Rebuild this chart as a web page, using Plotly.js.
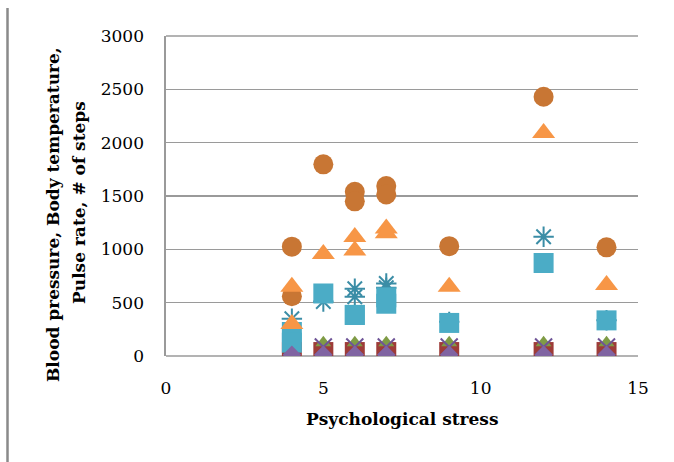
<!DOCTYPE html>
<html>
<head>
<meta charset="utf-8">
<script src="https://cdn.plot.ly/plotly-3.0.1.min.js"></script>
<style>
  html, body { margin: 0; padding: 0; background: #fff; }
  #chart { width: 674px; height: 462px; }
</style>
</head>
<body>
<div id="chart"></div>
<script>
// ---- Data ----
// Low-valued series, one point per stress level
var lowStress   = [4, 5, 6, 7, 9, 12, 14];
var bodyTemp    = [37, 37, 37, 37, 37, 37, 37];          // dark red squares
var systolic    = [125, 125, 125, 125, 125, 125, 125];   // green triangles
var pulse       = [85, 85, 85, 85, 85, 85, 85];          // purple x
var diamondVals = [12, 12, 12, 12, 12, 12, 12];          // purple diamonds

// Asterisk series (teal)
var astStress = [4, 5, 6, 6, 7, 7, 9, 12, 14];
var astVals   = [350, 510, 630, 555, 680, 640, 320, 1118, 335];

// Square series (cyan)
var sqStress = [4, 4, 5, 6, 6, 7, 7, 9, 12, 14];
var sqVals   = [225, 125, 586, 385, 385, 550, 490, 310, 872, 334];

// Circle series (dark orange)
var circStress = [4, 4, 5, 6, 6, 7, 7, 9, 12, 14];
var circVals   = [1025, 560, 1797, 1540, 1450, 1594, 1515, 1030, 2430, 1019];

// Triangle series (light orange)
var triStress = [4, 4, 5, 6, 6, 7, 7, 9, 12, 14];
var triVals   = [650, 300, 956, 1115, 990, 1195, 1150, 650, 2090, 665];

// Axis ticks
var yTicks = [0, 500, 1000, 1500, 2000, 2500, 3000];
var xTicks = [0, 5, 10, 15];

function mk(x, y, symbol, color, size, lineColor, lineWidth) {
  return {
    type: 'scatter', mode: 'markers', x: x, y: y, hoverinfo: 'skip',
    marker: { symbol: symbol, color: color, size: size,
              line: { color: lineColor || color, width: lineWidth || 0 } }
  };
}

var traces = [
  mk(lowStress, bodyTemp, 'square', '#9E3C38', 20),
  mk(lowStress, systolic, 'triangle-up', '#7F9B45', 14),
  mk(lowStress, pulse, 'x-thin-open', '#6E5497', 17, '#6E5497', 2),
  mk(astStress, astVals, 'asterisk-open', '#3B8DA6', 17, '#3B8DA6', 2),
  mk(sqStress, sqVals, 'square', '#4BACC6', 20),
  mk(circStress, circVals, 'circle', '#C87634', 20),
  mk(triStress, triVals, 'triangle-up', '#F79646', 20),
  mk(lowStress, diamondVals, 'diamond', '#8064A2', 14)
];

var tickFont = { family: 'DejaVu Serif, serif', size: 17, color: '#000' };
var titleFont = { family: 'DejaVu Serif, serif', size: 17, color: '#000', weight: 'bold' };

var L = 166, R = 638, T = 36, B = 356;
function px2paperX(p) { return (p - L) / (R - L); }
function px2paperY(p) { return (B - p) / (B - T); }

var layout = {
  width: 674, height: 462,
  margin: { l: L, r: 674 - R, t: T, b: 462 - B },
  paper_bgcolor: '#fff', plot_bgcolor: '#fff',
  showlegend: false,
  xaxis: {
    range: [0, 15], tickvals: xTicks, ticktext: xTicks.map(String),
    showgrid: false, zeroline: false, showline: false,
    ticks: '', tickfont: tickFont, ticklabelstandoff: 20
  },
  yaxis: {
    range: [0, 3000], tickvals: yTicks, ticktext: yTicks.map(String),
    showgrid: true, gridcolor: '#9a9a9a', gridwidth: 1.6,
    zeroline: false, showline: true, linecolor: '#9a9a9a', linewidth: 1.6,
    ticks: '', tickfont: tickFont, ticklabelstandoff: 17
  },
  annotations: [
    { xref: 'paper', yref: 'paper', x: px2paperX(402), y: px2paperY(419),
      text: 'Psychological stress', showarrow: false, font: titleFont,
      xanchor: 'center', yanchor: 'middle' },
    { xref: 'paper', yref: 'paper', x: px2paperX(53), y: px2paperY(215),
      text: 'Blood pressure, Body temperature,', showarrow: false, font: titleFont,
      textangle: -90, xanchor: 'center', yanchor: 'middle' },
    { xref: 'paper', yref: 'paper', x: px2paperX(79), y: px2paperY(203),
      text: 'Pulse rate, # of steps', showarrow: false, font: titleFont,
      textangle: -90, xanchor: 'center', yanchor: 'middle' }
  ],
  shapes: [
    { type: 'line', xref: 'paper', yref: 'paper',
      x0: px2paperX(7.5), x1: px2paperX(7.5), y0: px2paperY(8), y1: px2paperY(462),
      line: { color: '#8a8a8a', width: 2.5 } },
    { type: 'line', xref: 'paper', yref: 'paper',
      x0: 0, x1: 1, y0: 1, y1: 1, layer: 'below',
      line: { color: '#9a9a9a', width: 1.6 } },
    { type: 'line', xref: 'paper', yref: 'paper',
      x0: 0, x1: 1, y0: 0, y1: 0, layer: 'below',
      line: { color: '#9a9a9a', width: 1.6 } }
  ]
};

Plotly.newPlot('chart', traces, layout, { staticPlot: true, displayModeBar: false });
</script>
</body>
</html>
